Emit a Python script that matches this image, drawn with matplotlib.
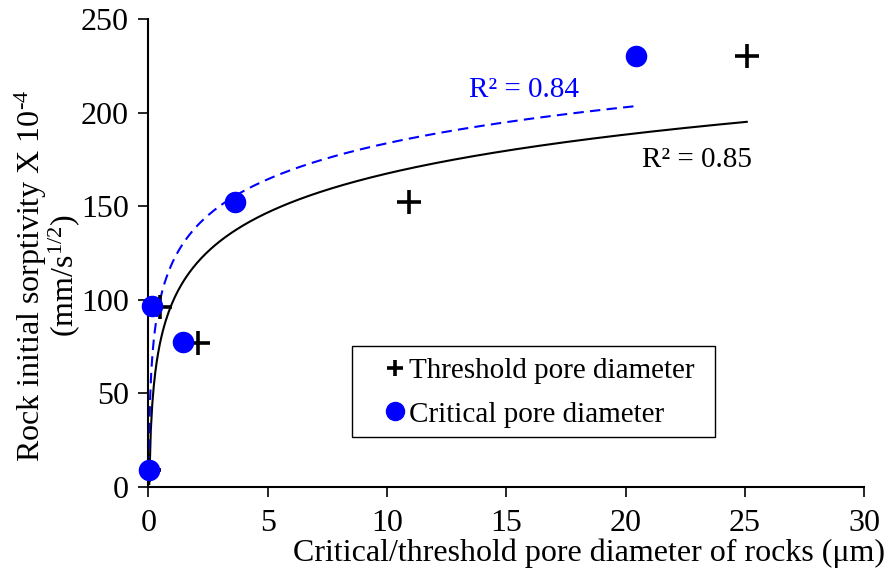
import numpy as np
import matplotlib
matplotlib.use("Agg")
import matplotlib.pyplot as plt
from matplotlib.lines import Line2D
from matplotlib.patches import Rectangle

plt.rcParams['font.family'] = ['Liberation Serif', 'DejaVu Serif']
plt.rcParams['mathtext.fontset'] = 'custom'
plt.rcParams['mathtext.rm'] = 'Liberation Serif'
plt.rcParams['mathtext.default'] = 'regular'

# threshold pore diameter (um) vs sorptivity
thr_x = [0.04, 0.5, 2.09, 10.93, 25.07]
thr_y = [9, 96.3, 77, 152, 230]
# critical pore diameter (um) vs sorptivity
crit_x = [0.02, 0.14, 1.47, 3.63, 20.43]
crit_y = [9, 96.5, 77.3, 152, 230]

r2_thr = "R² = 0.85"
r2_crit = "R² = 0.84"

x_ticks = [0, 5, 10, 15, 20, 25, 30]
y_ticks = [0, 50, 100, 150, 200, 250]


def log_trend(xs, ys, n=400):
    """Excel-style logarithmic trendline y = a ln(x) + b over the data range."""
    a, b = np.polyfit(np.log(xs), ys, 1)
    xx = np.linspace(min(xs), max(xs), n)
    return xx, a * np.log(xx) + b


W, H = 893, 576
fig = plt.figure(figsize=(W / 100, H / 100), dpi=100)
ax = fig.add_axes([0.1661, 0.155, 0.8019, 0.812])

xx, yy = log_trend(thr_x, thr_y)
ax.plot(xx, yy, color='black', lw=1.5, zorder=2)
xx, yy = log_trend(crit_x, crit_y)
ax.plot(xx, yy, color='#0000ff', lw=1.5, ls=(0, (5, 3)), zorder=2)

ax.plot(thr_x, thr_y, ls='none', marker='+', ms=17, mew=2.6,
        color='black', zorder=3)
ax.plot(crit_x, crit_y, ls='none', marker='o', ms=14.5,
        color='#0000ff', mec='#0000ff', zorder=4, clip_on=False)

ax.text(15.74, 211.8, r2_crit, color='#0000ff', fontsize=21,
        ha='center', va='center')
ax.text(22.99, 174.4, r2_thr, color='black', fontsize=21,
        ha='center', va='center')

ax.set_xlim(0, 30)
ax.set_ylim(0, 250)
ax.set_xticks(x_ticks)
ax.set_yticks(y_ticks)
ax.tick_params(direction='out', length=7, width=1.2, labelsize=23)
ax.tick_params(axis='x', pad=9)
ax.tick_params(axis='y', pad=7)
for s in ['top', 'right']:
    ax.spines[s].set_visible(False)
for s in ['left', 'bottom']:
    ax.spines[s].set_linewidth(1.5)

ax.set_xlabel('Critical/threshold pore diameter of rocks (μm)', fontsize=23)
ax.xaxis.label.set_ha('right')
ax.xaxis.label.set_va('center')
ax.xaxis.set_label_coords(1.0287, -0.142)

ax.set_ylabel('Rock initial sorptivity X 10$^{\u20104}$\n(mm/s$^{1/2}$)',
              fontsize=23, linespacing=0.92)
ax.yaxis.label.set_va('center')
ax.yaxis.set_label_coords(-0.141, 0.452)

# legend frame drawn separately so it can be wider than the entries
ax.add_patch(Rectangle((352 / W, 1 - 437 / H), 363 / W, 91 / H,
                       transform=fig.transFigure, fill=False,
                       edgecolor='black', lw=1.0, zorder=5))
handles = [
    Line2D([], [], ls='none', marker='+', ms=12, mew=2.6, color='black'),
    Line2D([], [], ls='none', marker='o', ms=13, color='#0000ff'),
]
leg = fig.legend(handles, ['Threshold pore diameter', 'Critical pore diameter'],
                 loc='center left', bbox_to_anchor=(383 / W, 1 - 392.5 / H),
                 fontsize=21, frameon=False, handlelength=0.8,
                 handletextpad=0.1, borderpad=0, labelspacing=0.6,
                 borderaxespad=0)

fig.savefig('out.png', dpi=100)
